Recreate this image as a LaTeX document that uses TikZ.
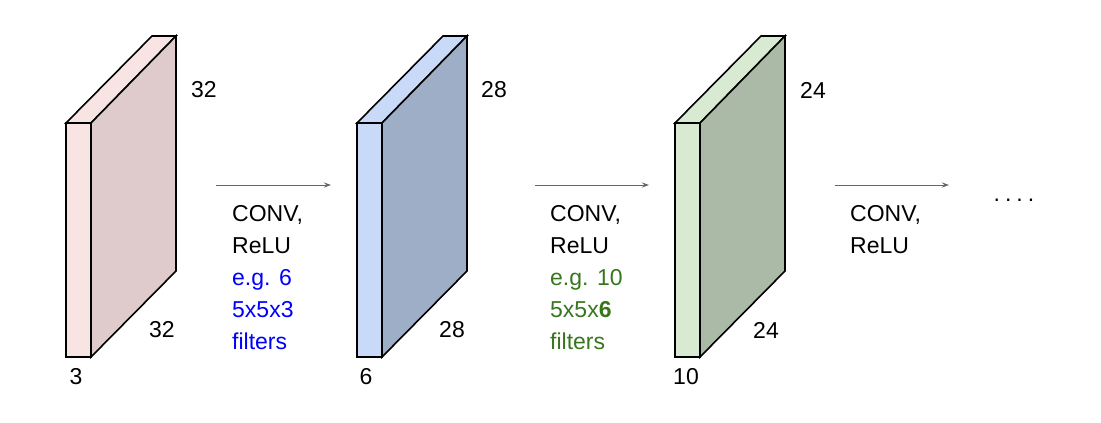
\documentclass[tikz,border=0pt]{standalone}
\usepackage{fontspec}
\setmainfont{Liberation Sans}
\usetikzlibrary{arrows.meta}
\definecolor{pinkF}{HTML}{F9E4E4}\definecolor{pinkS}{HTML}{DFCBCB}
\definecolor{blueF}{HTML}{C9DAF8}\definecolor{blueS}{HTML}{9FAEC7}
\definecolor{greenF}{HTML}{D9EAD3}\definecolor{greenS}{HTML}{ABBAA6}
\definecolor{gtxt}{HTML}{38761D}
\begin{document}
\begin{tikzpicture}[x=1pt,y=-1pt,
  lbl/.style={font=\fontsize{23}{32}\selectfont,inner sep=0pt},
  txt/.style={font=\fontsize{23}{32}\selectfont,align=left,anchor=north west,inner sep=0pt},
  conn/.style={draw=gray!80!black,line width=1pt,-{Stealth[length=7pt,width=5pt]}},
  face/.style={draw=black,line width=1.6pt,line join=miter}]
\useasboundingbox (0,0) rectangle (1101,423);
\newcommand{\blockdraw}[3]{%
  \filldraw[face,fill=#2] (#1,123) -- (#1+25,123) -- (#1+110,36) -- (#1+86,36) -- cycle;
  \filldraw[face,fill=#3] (#1+25,123) -- (#1+110,36) -- (#1+110,271) -- (#1+25,357) -- cycle;
  \filldraw[face,fill=#2] (#1,123) rectangle (#1+25,357);}
\blockdraw{66}{pinkF}{pinkS}
\blockdraw{357}{blueF}{blueS}
\blockdraw{675}{greenF}{greenS}
\node[lbl] (a1) at (204,90) {32};
\node[lbl] (a2) at (162,330) {32};
\node[lbl] (a3) at (76,377) {3};
\node[lbl] (b1) at (494,90) {28};
\node[lbl] (b2) at (452,330) {28};
\node[lbl] (b3) at (366,377) {6};
\node[lbl] (c1) at (813,90) {24};
\node[lbl] (c2) at (766,330) {24};
\node[lbl] (c3) at (686,377) {10};
\coordinate (s1) at (216,185); \coordinate (e1) at (331,185);
\coordinate (s2) at (535,185); \coordinate (e2) at (649,185);
\coordinate (s3) at (835,185); \coordinate (e3) at (949,185);
\draw[conn] (s1) -- (e1);
\draw[conn] (s2) -- (e2);
\draw[conn] (s3) -- (e3);
\node[txt] (t1) at (232,205) {CONV,\\ReLU\\\textcolor{blue}{e.g. 6}\\\textcolor{blue}{5x5x3}\\\textcolor{blue}{filters}};
\node[txt] (t2) at (550,205) {CONV,\\ReLU\\\textcolor{gtxt}{e.g. 10}\\\textcolor{gtxt}{5x5x\textbf{6}}\\\textcolor{gtxt}{filters}};
\node[txt] (t3) at (850,205) {CONV,\\ReLU};
\node[lbl] (dots) at (1014,200) {.\hspace{5pt}.\hspace{5pt}.\hspace{5pt}.};
\end{tikzpicture}
\end{document}
